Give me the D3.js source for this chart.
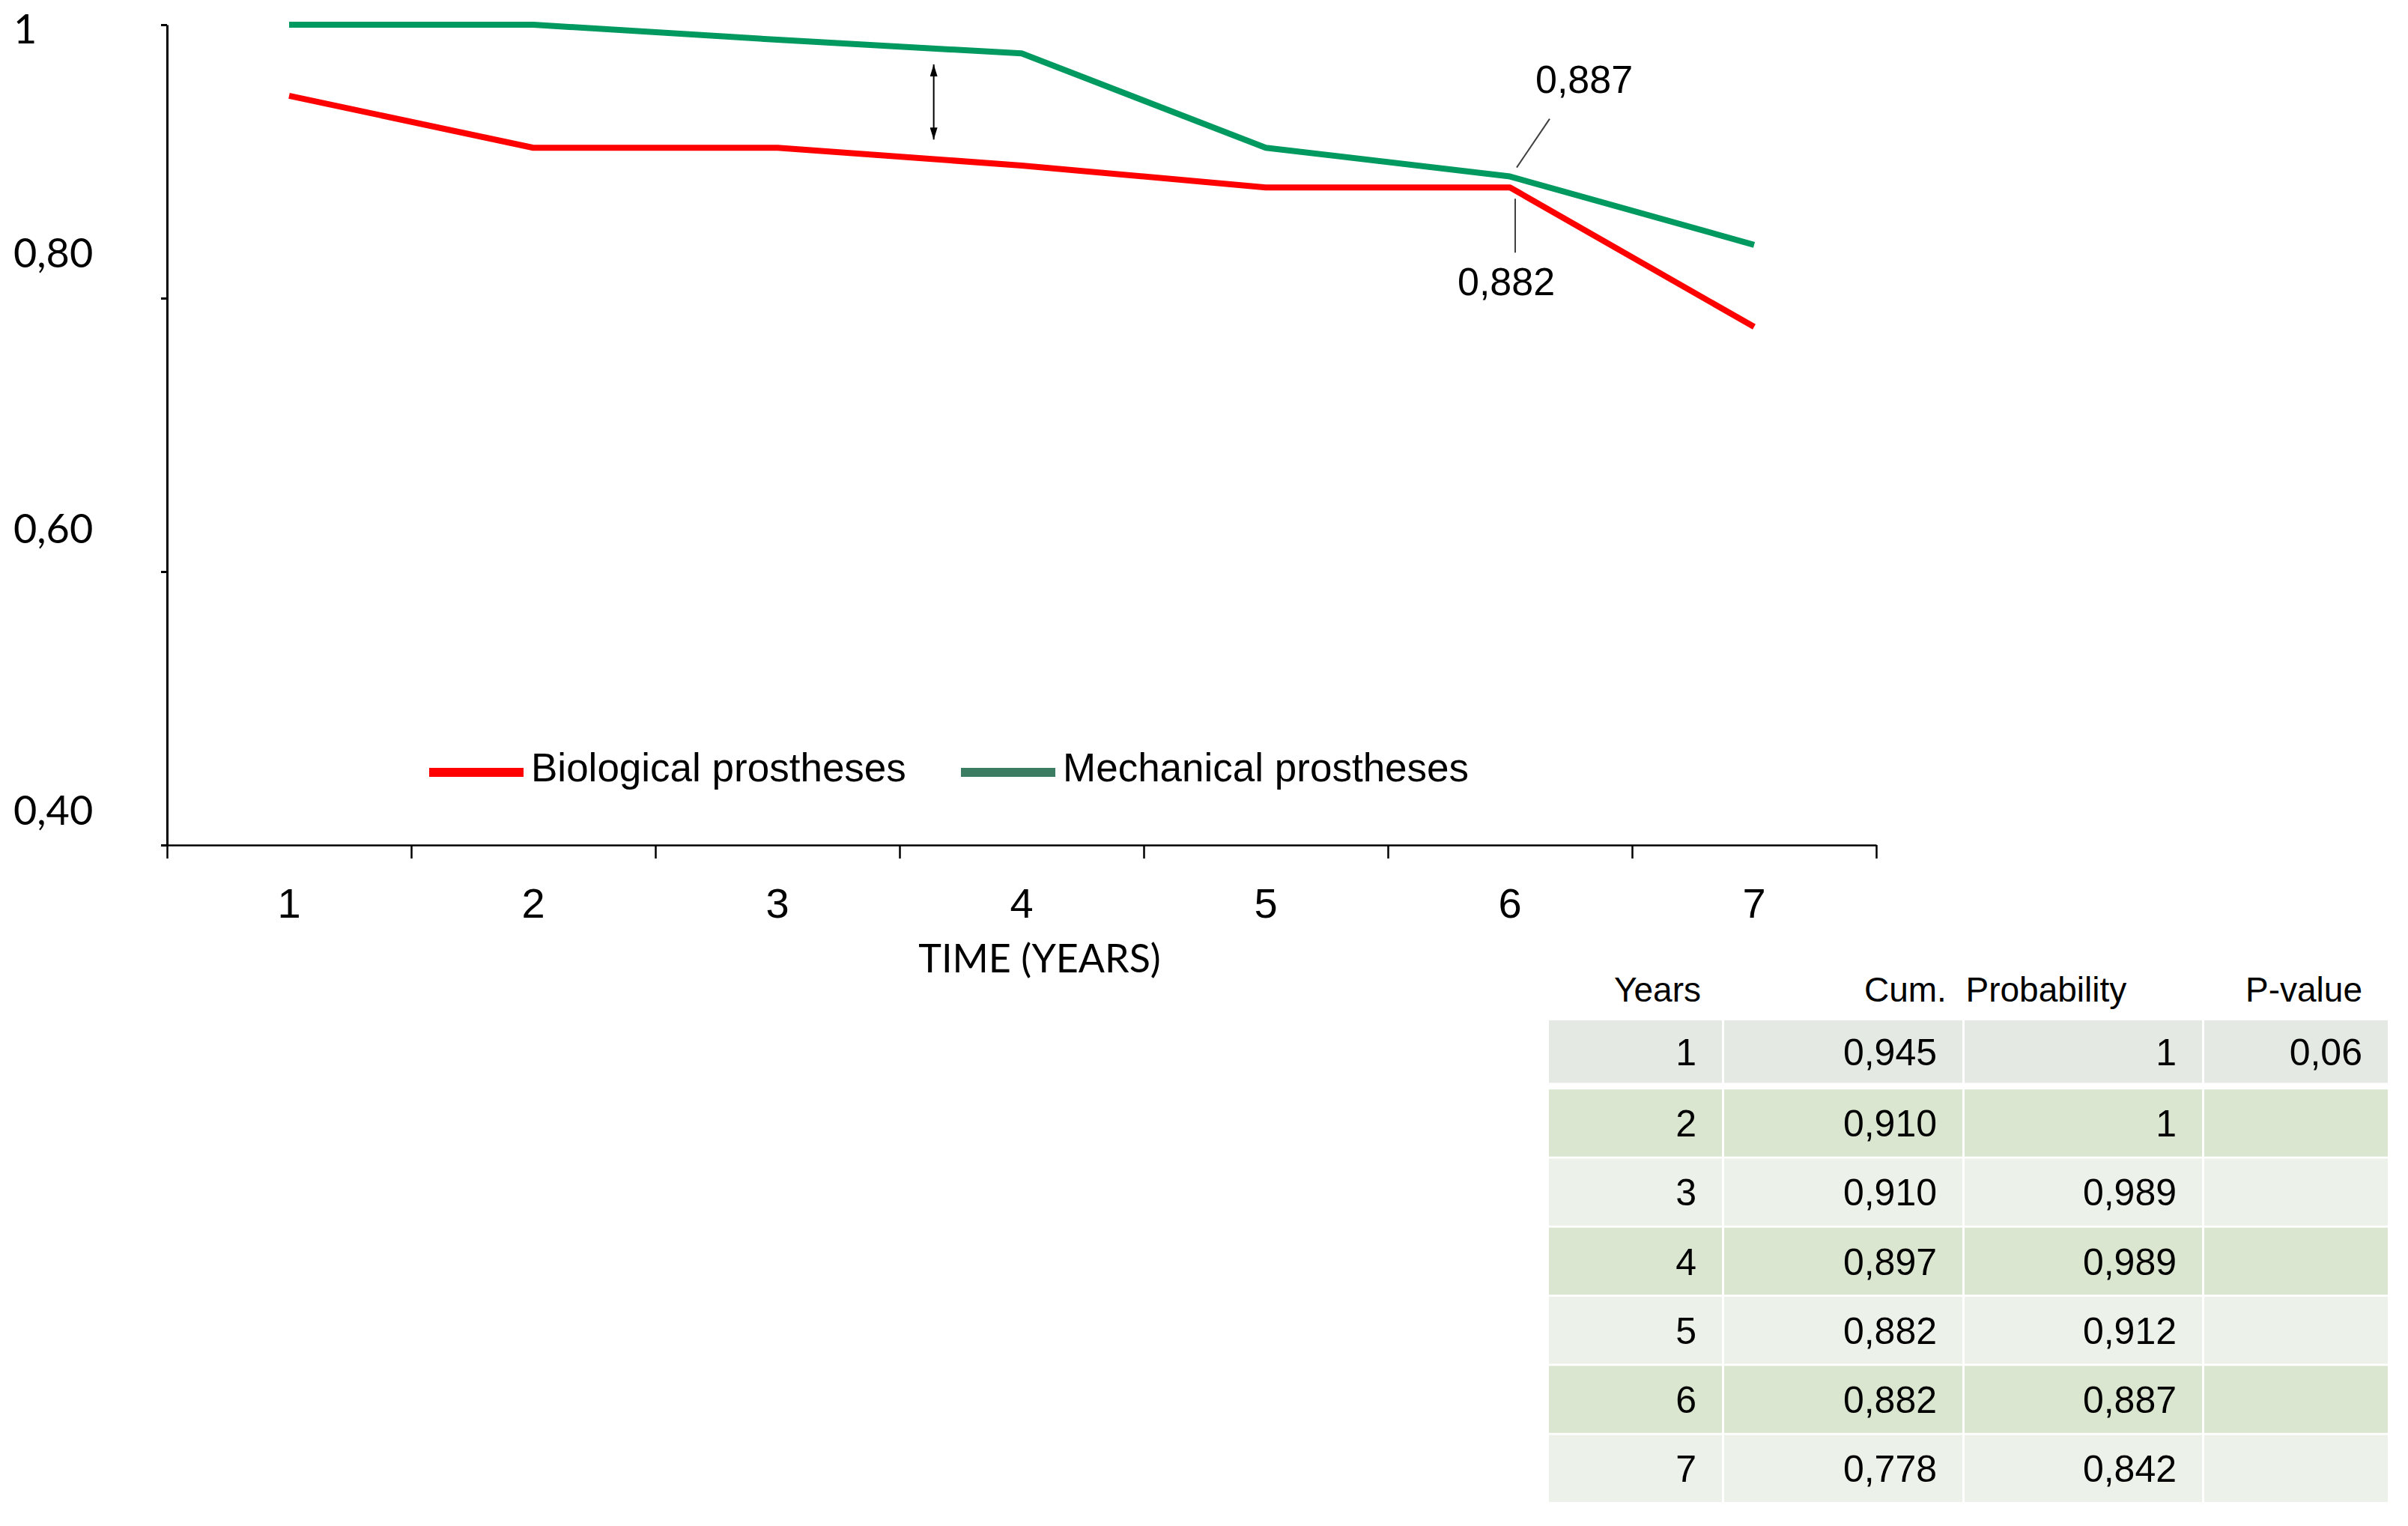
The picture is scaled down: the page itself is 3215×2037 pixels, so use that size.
<!DOCTYPE html>
<html>
<head>
<meta charset="utf-8">
<script src="https://cdn.jsdelivr.net/npm/d3@7"></script>
<style>
  html, body { margin: 0; padding: 0; background: #fff; }
  svg { display: block; }
  text.pre { white-space: pre; }
</style>
</head>
<body>
<svg id="chart" width="3215" height="2037"></svg>
<script>
// data
var years = [1, 2, 3, 4, 5, 6, 7];
var bioLine = [0.948, 0.910, 0.910, 0.897, 0.881, 0.881, 0.779];
var mechLine = [1, 1, 0.989, 0.979, 0.910, 0.889, 0.839];
var seriesNames = ['Biological prostheses', 'Mechanical prostheses'];
var yTicks = [0.4, 0.6, 0.8, 1];
var yTickLabels = ['0,40', '0,60', '0,80', '1'];
var xTitle = 'TIME (YEARS)';
var calloutYear = 6;
var calloutLabels = ['0,887', '0,882'];
var tableHeader = ['Years', 'Cum.  Probability', 'P-value'];
var tableBio = ['0,945', '0,910', '0,910', '0,897', '0,882', '0,882', '0,778'];
var tableMech = ['1', '1', '0,989', '0,989', '0,912', '0,887', '0,842'];
var tablePValue = ['0,06', '', '', '', '', '', ''];

var RED = '#ff0000', GREEN = '#00995f', LEGEND_GREEN = '#3b7d62';
var ARIAL = '"Liberation Sans", Arial, sans-serif';
var CALIBRI = 'Lato, "Open Sans", sans-serif';

var svg = d3.select('#chart')
  , plot = { left: 223, right: 2505, top: 33, bottom: 1128 }
  ;

var x = d3.scaleLinear().domain([0.5, 7.5]).range([plot.left, plot.right])
  , y = d3.scaleLinear().domain([0.4, 1]).range([plot.bottom, plot.top])
  // the source figure prints its y labels a little off the ticks
  , yLabel = d3.scaleLinear().domain(yTicks).range([1101, 725, 357, 58])
  ;

// x axis: ticks sit between the years
svg.append('g')
    .attr('transform', 'translate(0,' + plot.bottom + ')')
    .call(d3.axisBottom(x).tickValues(d3.range(0.5, 8, 1)).tickSize(18).tickSizeOuter(0).tickFormat(''))
    .call(function (g) {
      g.select('.domain').attr('stroke', '#000').attr('stroke-width', 2.5);
      g.selectAll('.tick line').attr('stroke', '#000').attr('stroke-width', 2.5);
    });

svg.append('g').selectAll('text')
  .data(years)
  .join('text')
    .attr('x', function (d) { return x(d); })
    .attr('y', plot.bottom + 97)
    .attr('text-anchor', 'middle')
    .style('font', '56px ' + ARIAL)
    .text(function (d) { return d; });

svg.append('text')
    .attr('x', 1388)
    .attr('y', 1298)
    .attr('text-anchor', 'middle')
    .style('font', '52px ' + CALIBRI)
    .text(xTitle);

// y axis
svg.append('g')
    .attr('transform', 'translate(' + plot.left + ',0)')
    .call(d3.axisLeft(y).tickValues(yTicks).tickSize(8).tickSizeOuter(0).tickFormat(''))
    .call(function (g) {
      g.select('.domain').attr('stroke', '#000').attr('stroke-width', 3);
      g.selectAll('.tick line').attr('stroke', '#000').attr('stroke-width', 3);
    });

svg.append('g').selectAll('text')
  .data(yTicks)
  .join('text')
    .attr('x', 18)
    .attr('y', function (d) { return yLabel(d); })
    .style('font', '54px ' + CALIBRI)
    .text(function (d, i) { return yTickLabels[i]; });

// lines
var line = d3.line()
    .x(function (d, i) { return x(years[i]); })
    .y(function (d) { return y(d); });

svg.append('path')
    .datum(bioLine)
    .attr('d', line)
    .attr('fill', 'none')
    .attr('stroke', RED)
    .attr('stroke-width', 8)
    .attr('stroke-linejoin', 'round');

svg.append('path')
    .datum(mechLine)
    .attr('d', line)
    .attr('fill', 'none')
    .attr('stroke', GREEN)
    .attr('stroke-width', 8)
    .attr('stroke-linejoin', 'round');

// double arrow between the curves
svg.append('defs').append('marker')
    .attr('id', 'head')
    .attr('viewBox', '0 0 16 10')
    .attr('refX', 16).attr('refY', 5)
    .attr('markerWidth', 16).attr('markerHeight', 10)
    .attr('markerUnits', 'userSpaceOnUse')
    .attr('orient', 'auto-start-reverse')
  .append('path')
    .attr('d', 'M0,0L16,5L0,10Z')
    .attr('fill', '#000');

svg.append('line')
    .attr('x1', x(3.64)).attr('x2', x(3.64))
    .attr('y1', y(0.971)).attr('y2', y(0.916))
    .attr('stroke', '#000')
    .attr('stroke-width', 2)
    .attr('marker-start', 'url(#head)')
    .attr('marker-end', 'url(#head)');

// callouts at year 6
var i6 = years.indexOf(calloutYear)
  , pm = { x: x(calloutYear), y: y(mechLine[i6]) }
  , pb = { x: x(calloutYear), y: y(bioLine[i6]) }
  ;

svg.append('line')
    .attr('x1', pm.x + 9).attr('y1', pm.y - 12)
    .attr('x2', pm.x + 53).attr('y2', pm.y - 77)
    .attr('stroke', '#404040').attr('stroke-width', 2);
svg.append('text')
    .attr('x', pm.x + 34).attr('y', pm.y - 112)
    .style('font', '52px ' + ARIAL)
    .text(calloutLabels[0]);

svg.append('line')
    .attr('x1', pb.x + 7).attr('y1', pb.y + 15)
    .attr('x2', pb.x + 7).attr('y2', pb.y + 87)
    .attr('stroke', '#404040').attr('stroke-width', 2);
svg.append('text')
    .attr('x', pb.x - 70).attr('y', pb.y + 144)
    .style('font', '52px ' + ARIAL)
    .text(calloutLabels[1]);

// legend
var legend = [
  { name: seriesNames[0], color: RED, x: 573 },
  { name: seriesNames[1], color: LEGEND_GREEN, x: 1283 }
];
var lg = svg.append('g').selectAll('g')
  .data(legend)
  .join('g')
    .attr('transform', function (d) { return 'translate(' + d.x + ',1031)'; });
lg.append('line')
    .attr('x1', 0).attr('x2', 126)
    .attr('stroke', function (d) { return d.color; })
    .attr('stroke-width', 12);
lg.append('text')
    .attr('x', 136).attr('y', 12)
    .style('font', '53px ' + ARIAL)
    .text(function (d) { return d.name; });

// table
var table = { cols: [2068, 2302, 2623, 2943, 3191], top: 1362, bottom: 2005, gap: 3, pad: 34 };
var rowY = d3.scaleBand().domain(years).range([table.top, table.bottom]).paddingInner(0.03);
var columns = [years.map(String), tableBio, tableMech, tablePValue];

function rowFill(i) {
  if (i === 0) return '#e4eae3';
  return i % 2 === 1 ? '#dae6d0' : '#ecf1e9';
}

var rows = svg.append('g').selectAll('g')
  .data(years)
  .join('g');

columns.forEach(function (col, c) {
  rows.append('rect')
      .attr('x', table.cols[c])
      .attr('y', function (d) { return rowY(d); })
      .attr('width', table.cols[c + 1] - table.cols[c] - table.gap)
      .attr('height', function (d, i) { return rowY.bandwidth() - (i === 0 ? 6 : 0); })
      .attr('fill', function (d, i) { return rowFill(i); });

  rows.append('text')
      .attr('x', table.cols[c + 1] - table.gap - table.pad)
      .attr('y', function (d, i) { return rowY(d) + (rowY.bandwidth() - (i === 0 ? 6 : 0)) / 2 + 18; })
      .attr('text-anchor', 'end')
      .style('font', '50px ' + ARIAL)
      .text(function (d, i) { return col[i]; });
});

var header = svg.append('g').style('font', '46px ' + ARIAL);
header.append('text').attr('x', table.cols[1] - 31).attr('y', 1337).attr('text-anchor', 'end').text(tableHeader[0]);
header.append('text').attr('class', 'pre').attr('xml:space', 'preserve')
    .attr('x', table.cols[2] - 134).attr('y', 1337).text(tableHeader[1]);
header.append('text').attr('x', table.cols[4] - table.gap - table.pad).attr('y', 1337).attr('text-anchor', 'end').text(tableHeader[2]);
</script>
</body>
</html>
